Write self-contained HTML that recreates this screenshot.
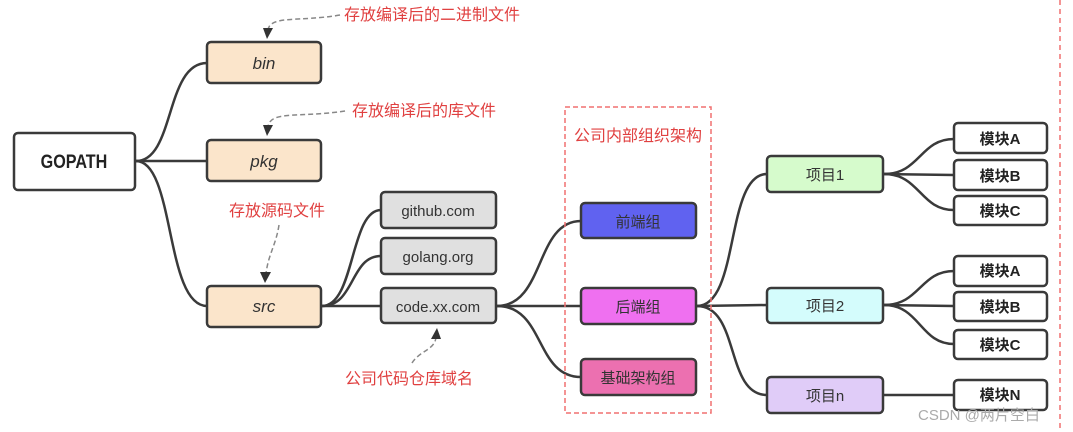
<!DOCTYPE html>
<html><head><meta charset="utf-8"><style>
html,body{margin:0;padding:0;background:#fff;width:1073px;height:432px;overflow:hidden}
text{font-family:"Liberation Sans","Noto Sans CJK SC",sans-serif}
</style></head><body>
<svg width="1073" height="432" viewBox="0 0 1073 432" xmlns="http://www.w3.org/2000/svg">
<g fill="none" stroke="#3a3a3a" stroke-width="2.5">
<path d="M136,161 C175,161 165,63 207,63"/>
<path d="M136,161 L207,161"/>
<path d="M136,161 C175,161 165,306 207,306"/>
<path d="M322,306 C355,306 350,210 381,210"/>
<path d="M322,306 C355,306 350,256 381,256"/>
<path d="M322,306 L381,306"/>
<path d="M497,306 C545,306 535,221 581,221"/>
<path d="M497,306 L581,306"/>
<path d="M497,306 C545,306 535,377 581,377"/>
<path d="M697,306 C740,306 725,174 767,174"/>
<path d="M697,306 L767,305"/>
<path d="M697,306 C740,306 725,395 767,395"/>
<path d="M884,174 C920,174 920,139 954,139"/>
<path d="M884,174 L954,175"/>
<path d="M884,174 C920,174 920,210 954,210"/>
<path d="M884,305 C920,305 920,271 954,271"/>
<path d="M884,305 L954,306"/>
<path d="M884,305 C920,305 920,344 954,344"/>
<path d="M884,395 L954,395"/>
</g>
<g fill="none" stroke="#888" stroke-width="1.5" stroke-dasharray="5,3">
<path d="M340,15 C300,22 270,15 268,30"/>
<path d="M345,111 C300,118 270,110 268,127"/>
<path d="M279,225 C276,245 268,255 266,274"/>
<path d="M412,363 C420,350 436,350 436,336"/>
</g>
<g fill="#333">
<path d="M263,28 L273,28 L267,39 Z"/>
<path d="M263,125 L273,125 L267,136 Z"/>
<path d="M260,272 L271,272 L265,283 Z"/>
<path d="M431,339 L441,339 L437,328 Z"/>
</g>
<rect x="565" y="107" width="146" height="306" fill="none" stroke="#f07070" stroke-width="1.5" stroke-dasharray="5,3"/>
<line x1="1060" y1="0" x2="1060" y2="432" stroke="#f07070" stroke-width="1.5" stroke-dasharray="5,4"/>
<g stroke="#3a3a3a" stroke-width="2.5">
<rect x="14" y="133" width="121" height="57" rx="4" fill="#fff"/>
<rect x="207" y="42" width="114" height="41" rx="4" fill="#fbe5cb"/>
<rect x="207" y="140" width="114" height="41" rx="4" fill="#fbe5cb"/>
<rect x="207" y="286" width="114" height="41" rx="4" fill="#fbe5cb"/>
<rect x="381" y="192" width="115" height="36" rx="4" fill="#e0e0e0"/>
<rect x="381" y="238" width="115" height="36" rx="4" fill="#e0e0e0"/>
<rect x="381" y="288" width="115" height="35" rx="4" fill="#e0e0e0"/>
<rect x="581" y="203" width="115" height="35" rx="4" fill="#6062f0"/>
<rect x="581" y="288" width="115" height="36" rx="4" fill="#ef70f0"/>
<rect x="581" y="359" width="115" height="36" rx="4" fill="#ec70b0"/>
<rect x="767" y="156" width="116" height="36" rx="4" fill="#d6fbcc"/>
<rect x="767" y="288" width="116" height="35" rx="4" fill="#d4fcfc"/>
<rect x="767" y="377" width="116" height="36" rx="4" fill="#e0ccf8"/>
<rect x="954" y="123" width="93" height="30" rx="4" fill="#fff"/>
<rect x="954" y="160" width="93" height="30" rx="4" fill="#fff"/>
<rect x="954" y="196" width="93" height="29" rx="4" fill="#fff"/>
<rect x="954" y="256" width="93" height="30" rx="4" fill="#fff"/>
<rect x="954" y="292" width="93" height="29" rx="4" fill="#fff"/>
<rect x="954" y="330" width="93" height="29" rx="4" fill="#fff"/>
<rect x="954" y="380" width="93" height="30" rx="4" fill="#fff"/>
</g>
<g text-anchor="middle" fill="#333">
<text x="74" y="168" font-size="19" font-weight="bold" fill="#222" transform="translate(74 0) scale(0.85 1) translate(-74 0)">GOPATH</text>
<text x="264" y="69" font-size="17" font-style="italic">bin</text>
<text x="264" y="167" font-size="17" font-style="italic">pkg</text>
<text x="264" y="312" font-size="17" font-style="italic">src</text>
<text x="438" y="216" font-size="15">github.com</text>
<text x="438" y="262" font-size="15">golang.org</text>
<text x="438" y="312" font-size="15">code.xx.com</text>
<text x="638" y="227" font-size="15">前端组</text>
<text x="638" y="312" font-size="15">后端组</text>
<text x="638" y="383" font-size="15">基础架构组</text>
<text x="825" y="180" font-size="15">项目1</text>
<text x="825" y="311" font-size="15">项目2</text>
<text x="825" y="401" font-size="15">项目n</text>
<g font-size="15" font-weight="bold" fill="#222">
<text x="1000" y="144">模块A</text>
<text x="1000" y="181">模块B</text>
<text x="1000" y="216">模块C</text>
<text x="1000" y="276">模块A</text>
<text x="1000" y="312">模块B</text>
<text x="1000" y="350">模块C</text>
<text x="1000" y="400">模块N</text>
</g>
</g>
<g fill="#e04040" font-size="16">
<text x="344" y="20">存放编译后的二进制文件</text>
<text x="352" y="116">存放编译后的库文件</text>
<text x="229" y="216">存放源码文件</text>
<text x="345" y="384">公司代码仓库域名</text>
<text x="574" y="141">公司内部组织架构</text>
</g>
<text x="918" y="420" font-size="15" fill="#aaa">CSDN @两片空白</text>
</svg>
</body></html>
